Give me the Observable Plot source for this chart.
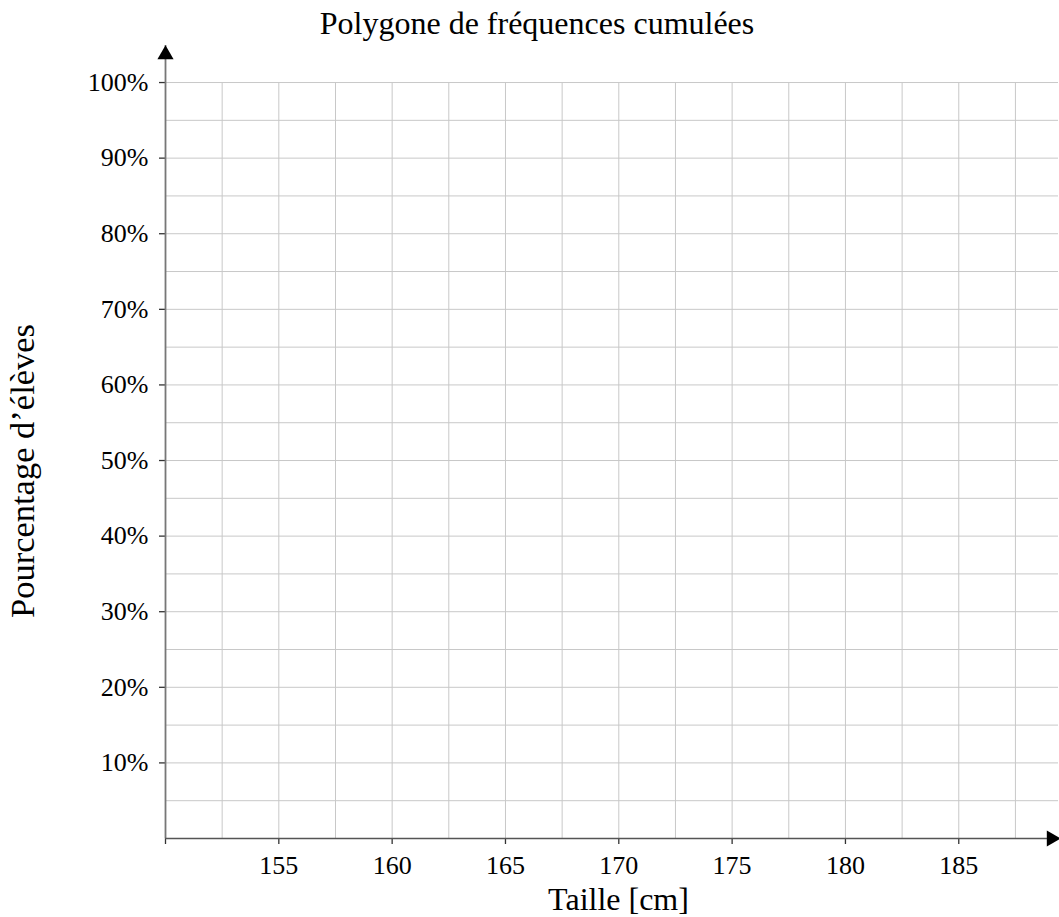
<!DOCTYPE html>
<html>
<head>
<meta charset="utf-8">
<script src="https://cdn.jsdelivr.net/npm/d3@7"></script>
<script src="https://cdn.jsdelivr.net/npm/@observablehq/plot@0.6"></script>
<style>
  html, body { margin: 0; padding: 0; background: #fff; }
</style>
</head>
<body>
<div id="chart"></div>
<script>
const title = "Polygone de fréquences cumulées";
const xLabel = "Taille [cm]";
const yLabel = "Pourcentage d’élèves";
const xDomain = [150, 189.4];
const yDomain = [0, 104.9];
const xTicks = [150, 155, 160, 165, 170, 175, 180, 185];
const yTicks = [10, 20, 30, 40, 50, 60, 70, 80, 90, 100];
const xGrid = [152.5, 155, 157.5, 160, 162.5, 165, 167.5, 170, 172.5, 175, 177.5, 180, 182.5, 185, 187.5];
const yGrid = [5, 10, 15, 20, 25, 30, 35, 40, 45, 50, 55, 60, 65, 70, 75, 80, 85, 90, 95, 100];

const font = "'Liberation Serif', 'DejaVu Serif', serif";
const gridColor = "#c8c8c8";

const chart = Plot.plot({
  width: 1059,
  height: 917,
  marginLeft: 165,
  marginRight: 1,
  marginTop: 45,
  marginBottom: 79,
  style: { fontFamily: font, fontSize: "26px", background: "#fff", color: "#000" },
  x: { domain: xDomain },
  y: { domain: yDomain },
  marks: [
    Plot.ruleX(xGrid, { y1: yDomain[0], y2: 100, stroke: gridColor, strokeWidth: 1 }),
    Plot.ruleY(yGrid, { x1: xDomain[0], x2: xDomain[1], stroke: gridColor, strokeWidth: 1 }),
    Plot.axisX({ ticks: xTicks, tickFormat: d => d === xDomain[0] ? "" : String(d), tickSize: 6, tickPadding: 11, fontSize: 26, stroke: "#333", strokeWidth: 1.3, label: null }),
    Plot.axisY({ ticks: yTicks, tickFormat: d => d + "%", tickSize: 6, tickPadding: 11, fontSize: 26, stroke: "#333", strokeWidth: 1.3, label: null }),
    Plot.ruleX([xDomain[0]], { y1: yDomain[0], y2: yDomain[1], stroke: "#777", strokeWidth: 1.8 }),
    Plot.ruleY([yDomain[0]], { x1: xDomain[0], x2: xDomain[1], stroke: "#555", strokeWidth: 1.6 }),
    Plot.dot([0], { x: () => xDomain[0], y: () => yDomain[1], symbol: "triangle", r: 6, fill: "#000", stroke: "none", dy: 9 }),
    Plot.dot([0], { x: () => xDomain[1], y: () => yDomain[0], symbol: "triangle", r: 6, fill: "#000", stroke: "none", rotate: 90, dx: -7 }),
    Plot.text([title], { frameAnchor: "top", lineAnchor: "bottom", textAnchor: "middle", dx: -75, dy: -12, fontSize: 32, fill: "#000" }),
    Plot.text([xLabel], { frameAnchor: "bottom", lineAnchor: "bottom", textAnchor: "middle", dx: 6.5, dy: 71, fontSize: 32, fill: "#000" }),
    Plot.text([yLabel], { frameAnchor: "left", lineAnchor: "bottom", textAnchor: "middle", rotate: -90, dx: -132, dy: 29, fontSize: 34.5, fill: "#000" })
  ]
});
document.getElementById("chart").appendChild(chart);
</script>
</body>
</html>
